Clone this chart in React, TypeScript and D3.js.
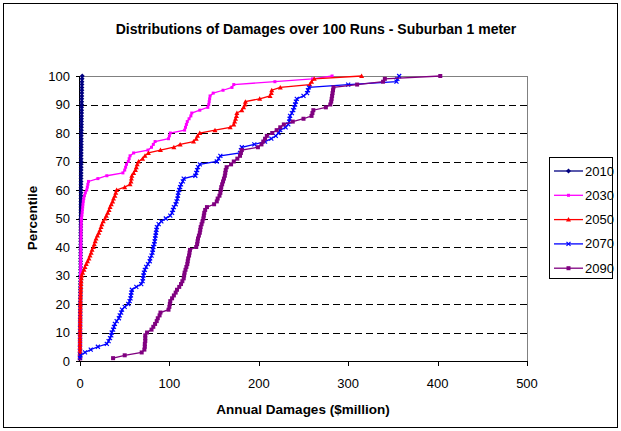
import React from "react";
import * as d3 from "d3";

const seriesNames = ["2010", "2030", "2050", "2070", "2090"];
const seriesColors = ["#000080", "#FF00FF", "#FF0000", "#0000FF", "#800080"];
const xTicks = [0, 100, 200, 300, 400, 500];
const yTicks = [0, 10, 20, 30, 40, 50, 60, 70, 80, 90, 100];
const gridTicks = [10, 20, 30, 40, 50, 60, 70, 80, 90];

const s2010 = [0,0,0,0,0,0.05,0.05,0.1,0.1,0.1,0.15,0.15,0.2,0.2,0.2,0.25,0.25,0.3,0.3,0.3,0.35,0.35,0.4,0.4,0.4,0.45,0.45,0.5,0.5,0.5,0.55,0.55,0.6,0.6,0.6,0.65,0.65,0.7,0.7,0.7,0.75,0.75,0.8,0.8,0.8,0.85,0.85,0.9,0.9,0.9,0.95,0.95,1.0,1.0,1.0,1.05,1.05,1.1,1.1,1.1,1.15,1.15,1.2,1.2,1.2,1.25,1.25,1.3,1.3,1.3,1.35,1.35,1.4,1.4,1.4,1.45,1.45,1.5,1.5,1.55,1.6,1.6,1.65,1.7,1.7,1.75,1.8,1.8,1.85,1.9,1.9,1.95,2.0,2.0,2.1,2.1,2.2,2.2,2.3,2.5];
const s2030 = [0,0,0,0,0.05,0.05,0.1,0.1,0.1,0.15,0.15,0.2,0.2,0.2,0.25,0.25,0.3,0.3,0.3,0.35,0.35,0.4,0.4,0.45,0.45,0.5,0.5,0.5,0.55,0.6,0.6,0.65,0.7,0.7,0.75,0.8,0.8,0.85,0.9,0.9,0.95,1.0,1.0,1.1,1.1,1.2,1.2,1.3,1.4,1.6,2.0,2.4,2.7,3.0,3.3,3.7,4.2,5.0,6.0,7.5,8.2,8.8,9.5,20,30,48,50,51,52,54,55,56,60,76,80,82,84,99,100,101,117,118,119,120,122,124,125,134,143,144,144.5,145,145.5,149,160,170,172,218,260,282];
const s2050 = [0,0,0,0,0,0,0.05,0.05,0.1,0.1,0.15,0.2,0.2,0.25,0.3,0.3,0.35,0.4,0.45,0.5,0.55,0.6,0.7,0.8,0.9,1.0,1.1,1.3,1.5,1.9,3,4.5,5.6,7,8.5,10,11.2,12.5,13.5,15,16,17,18,19.5,21,22.4,23.5,24.5,26,28,29.5,31,32.5,33.6,35,36.5,37.5,39,40,41,50,56,57,57.5,58,60,62,63,64,65.5,70,72.7,76.5,90,105,112,127,130,131.5,134,151,168,172,173,174,175,175.5,181,183,184.6,185,201,212.6,214,214.5,224,257,259,262,315];
const s2070 = [0,0.5,5.6,12,20,30,32,33.6,35,35.5,37,38,39,41,43.5,44.5,46,47,50,54,55.5,56.5,57,57.5,58,63,68.5,70,70.5,71,71.5,72.5,74,76,78,78.5,80,81,81.5,82,83,83.5,84,84.5,85,85.5,86,88,91,96,101,103,104,105,107,108,109,109.5,110,111,112,113,115,116,129,130,131,132,134,153,155,157,179,180,181,195,207,214,219,222,224,230,233,234,234.5,235,237,238.5,239.5,240.6,241.5,242.5,250,254,255,256,300,354,355,357];
const s2090 = [37,50,69,72,72.5,72.5,73,73,73,75,80,82,84,85.8,87,89,90,99,100,100.5,101,103,105,107,108.5,111,113,114.5,116,116.5,117,118,119,120,120.5,121,122,122.5,123,130,131,131.5,132,133,134,134.5,135,136,137,138,138.5,139,140,142,150,153,154,156,157,157.5,158,159,160,161,162,162.5,163,164,169,172,176,179,180,181,199,203,205,207,209,215,220,224,228,238,250,259,260,261,275,280,281,281.5,282,282.5,283,283.5,310,339,341,403];

const allSeries = [s2010, s2030, s2050, s2070, s2090];
const percentiles = d3.range(1, 101);

const W = 621;
const H = 431;
const FONT = "Arial, 'Liberation Sans', sans-serif";

function Marker({ kind, x, y, color }: { kind: number; x: number; y: number; color: string }) {
  if (kind === 0) {
    return <path d={`M${x},${y - 2.5}L${x + 2.5},${y}L${x},${y + 2.5}L${x - 2.5},${y}Z`} fill={color} />;
  }
  if (kind === 1) {
    return <rect x={x - 1.5} y={y - 1.5} width={3} height={3} fill={color} />;
  }
  if (kind === 2) {
    return <path d={`M${x},${y - 2.5}L${x + 2.5},${y + 2}L${x - 2.5},${y + 2}Z`} fill={color} />;
  }
  if (kind === 3) {
    return (
      <path
        d={`M${x - 2},${y - 2}L${x + 2},${y + 2}M${x - 2},${y + 2}L${x + 2},${y - 2}`}
        stroke={color}
        strokeWidth={1.2}
        fill="none"
      />
    );
  }
  return <rect x={x - 2} y={y - 2} width={4} height={4} fill={color} />;
}

export default function App() {
  const x = d3.scaleLinear().domain([0, 500]).range([80, 527]);
  const y = d3.scaleLinear().domain([0, 100]).range([361, 76]);
  const line = d3
    .line<[number, number]>()
    .x((d) => x(d[0]))
    .y((d) => y(d[1]));

  const legendX = 549;
  const legendY = 157;

  return (
    <svg
      width={W}
      height={H}
      style={{ position: "absolute", left: 0, top: 0, background: "#fff" }}
      fontFamily={FONT}
    >
      <rect x={0} y={0} width={W} height={H} fill="#fff" />
      <rect x={3.5} y={3.5} width={614} height={424} fill="none" stroke="#000" strokeWidth={1} />

      <text x={316} y={34} textAnchor="middle" fontSize={14} fontWeight="bold">
        Distributions of Damages over 100 Runs - Suburban 1 meter
      </text>

      {gridTicks.map((t) => (
        <line
          key={t}
          x1={x(0)}
          x2={x(500)}
          y1={Math.round(y(t)) + 0.5}
          y2={Math.round(y(t)) + 0.5}
          stroke="#000"
          strokeWidth={1}
          strokeDasharray="7,4"
        />
      ))}
      <line x1={x(0)} x2={x(500)} y1={y(100) + 0.5} y2={y(100) + 0.5} stroke="#808080" strokeWidth={1} />
      <line x1={x(500) + 0.5} x2={x(500) + 0.5} y1={y(100)} y2={y(0)} stroke="#808080" strokeWidth={1} />

      <line x1={x(0) - 0.5} x2={x(0) - 0.5} y1={y(100)} y2={y(0)} stroke="#000" strokeWidth={1} />
      <line x1={x(0)} x2={x(500)} y1={y(0) + 0.5} y2={y(0) + 0.5} stroke="#000" strokeWidth={1} />
      {yTicks.map((t) => (
        <g key={t}>
          <line x1={x(0) - 4} x2={x(0)} y1={Math.round(y(t)) + 0.5} y2={Math.round(y(t)) + 0.5} stroke="#000" />
          <text x={x(0) - 10} y={y(t) + 4.5} textAnchor="end" fontSize={13}>
            {t}
          </text>
        </g>
      ))}
      {xTicks.map((t) => (
        <g key={t}>
          <line x1={Math.round(x(t)) + 0.5} x2={Math.round(x(t)) + 0.5} y1={y(0)} y2={y(0) + 5} stroke="#000" />
          <text x={x(t)} y={388} textAnchor="middle" fontSize={13}>
            {t}
          </text>
        </g>
      ))}

      <text x={303} y={414} textAnchor="middle" fontSize={13.5} fontWeight="bold">
        Annual Damages ($million)
      </text>
      <text
        transform={`translate(37,218) rotate(-90)`}
        textAnchor="middle"
        fontSize={13.5}
        fontWeight="bold"
      >
        Percentile
      </text>

      {allSeries.map((s, si) => {
        const pts: [number, number][] = s.map((v, i) => [v, percentiles[i]]);
        return (
          <g key={si}>
            <path d={line(pts) || ""} fill="none" stroke={seriesColors[si]} strokeWidth={1.3} />
            {pts.map((p, i) => (
              <Marker key={i} kind={si} x={x(p[0])} y={y(p[1])} color={seriesColors[si]} />
            ))}
          </g>
        );
      })}

      <rect x={legendX + 0.5} y={legendY + 0.5} width={63} height={121} fill="#fff" stroke="#000" />
      {seriesNames.map((n, i) => {
        const ly = legendY + 14 + i * 24.3;
        return (
          <g key={n}>
            <line x1={legendX + 5} x2={legendX + 34} y1={ly} y2={ly} stroke={seriesColors[i]} strokeWidth={1.3} />
            <Marker kind={i} x={legendX + 19.5} y={ly} color={seriesColors[i]} />
            <text x={legendX + 36} y={ly + 4.5} fontSize={13}>
              {n}
            </text>
          </g>
        );
      })}
    </svg>
  );
}
